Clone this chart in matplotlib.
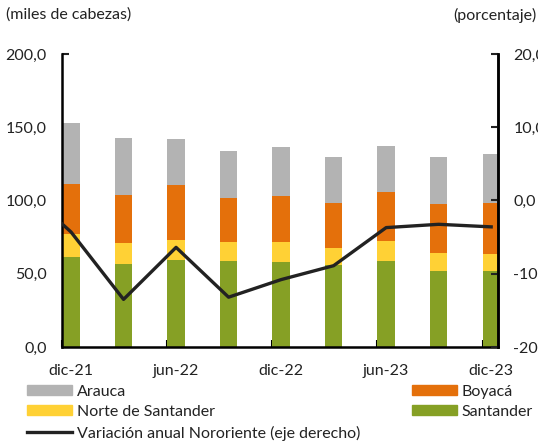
import matplotlib.pyplot as plt
from matplotlib.patches import Patch
from matplotlib.lines import Line2D
import numpy as np

plt.rcParams['font.family'] = ['Lato', 'DejaVu Sans']

# quarters shown (labels every two)
periods = ['dic-21', 'mar-22', 'jun-22', 'sep-22', 'dic-22',
           'mar-23', 'jun-23', 'sep-23', 'dic-23']
santander = [61.2, 56.7, 59.6, 58.7, 58.0, 55.8, 58.9, 51.7, 51.7]
norte = [15.9, 14.1, 13.4, 12.8, 13.5, 12.0, 13.5, 12.7, 11.8]
boyaca = [33.9, 33.0, 37.4, 30.0, 31.6, 30.7, 33.2, 33.4, 35.0]
arauca = [41.7, 38.6, 31.4, 32.5, 33.2, 31.4, 31.6, 32.1, 33.0]
# annual change (right axis); first value is sep-21, outside the plotted range
variacion = [2.2, -4.3, -13.5, -6.4, -13.2, -10.8, -8.9, -3.7, -3.25, -3.6]

c_arauca = '#b3b3b3'
c_boyaca = '#e4700b'
c_norte = '#ffd135'
c_sant = '#86a025'
c_text = '#222222'
fs = 11.5

fig = plt.figure(figsize=(5.38, 4.42), dpi=100)
ax = fig.add_axes([62 / 538, 95 / 442, 436 / 538, 293 / 442])

x = np.arange(len(periods))
w = 0.33
b1 = np.array(santander)
b2 = b1 + np.array(norte)
b3 = b2 + np.array(boyaca)
ax.bar(x, santander, w, color=c_sant, zorder=2)
ax.bar(x, norte, w, bottom=b1, color=c_norte, zorder=2)
ax.bar(x, boyaca, w, bottom=b2, color=c_boyaca, zorder=2)
ax.bar(x, arauca, w, bottom=b3, color=c_arauca, zorder=2)

ax.set_xlim(-0.172, 8.13)
ax.set_ylim(0, 200)
ax.set_yticks([0, 50, 100, 150, 200])
ax.set_yticklabels(['0,0', '50,0', '100,0', '150,0', '200,0'])
ax.set_xticks(x[::2])
ax.set_xticklabels(periods[::2])
ax.set_xticks(x[::2] - w / 2, minor=True)
ax.tick_params(axis='x', which='major', length=0, pad=12)
ax.tick_params(axis='x', which='minor', direction='in', length=5, width=1.5)
ax.tick_params(axis='y', direction='in', length=5, width=1.5, pad=11)
ax.tick_params(labelsize=fs, colors=c_text)
for s in ['left', 'right', 'bottom']:
    ax.spines[s].set_linewidth(1.8)
ax.spines['top'].set_visible(False)

ax2 = ax.twinx()
xl = np.arange(-1, len(periods))
ax2.plot(xl, variacion, color=c_text, lw=2.4, zorder=5)
ax2.set_ylim(-20, 20)
ax2.set_yticks([-20, -10, 0, 10, 20])
ax2.set_yticklabels(['-20,0', '-10,0', '0,0', '10,0', '20,0'])
ax2.tick_params(axis='y', direction='in', length=5, width=1.5, pad=11,
                labelsize=fs, colors=c_text)
ax2.spines['right'].set_linewidth(1.8)
ax2.spines['left'].set_visible(False)
ax2.spines['bottom'].set_visible(False)
ax2.spines['top'].set_visible(False)
ax2.set_xlim(-0.172, 8.13)

fig.text(6 / 538, 1 - 15 / 442, '(miles de cabezas)', fontsize=fs,
         color=c_text, va='center', ha='left')
fig.text(536 / 538, 1 - 15 / 442, '(porcentaje)', fontsize=fs,
         color=c_text, va='center', ha='right')

# row-wise order: Arauca | Boyacá, Norte de Santander | Santander
handles = [Patch(color=c_arauca), Patch(color=c_norte),
           Patch(color=c_boyaca), Patch(color=c_sant)]
labels = ['Arauca', 'Norte de Santander', 'Boyacá', 'Santander']
leg = fig.legend(handles, labels, ncol=2, mode='expand',
                 bbox_to_anchor=(27 / 538, 0, 506 / 538, 1 - 385 / 442),
                 loc='upper left', frameon=False, fontsize=fs,
                 handlelength=2.8, handleheight=0.56, handletextpad=0.3,
                 labelspacing=0.35, borderpad=0, borderaxespad=0)
for t in leg.get_texts():
    t.set_color(c_text)
leg2 = fig.legend([Line2D([], [], color=c_text, lw=2.4)],
                  ['Variación anual Nororiente (eje derecho)'],
                  bbox_to_anchor=(27 / 538, 1 - 426 / 442), loc='upper left',
                  frameon=False, fontsize=fs, handlelength=2.8,
                  handletextpad=0.3, borderpad=0, borderaxespad=0)
for t in leg2.get_texts():
    t.set_color(c_text)

fig.savefig('out.png', dpi=100)
